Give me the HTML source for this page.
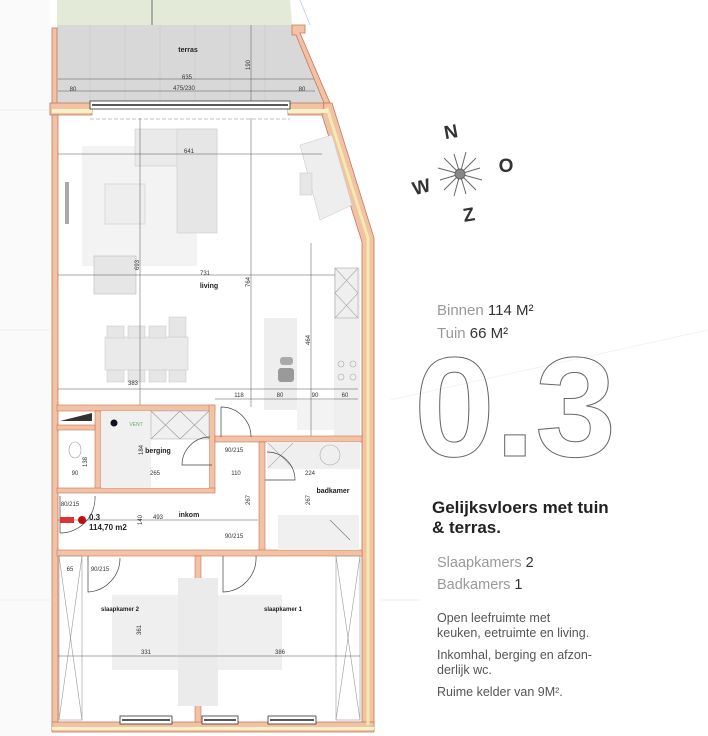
<!DOCTYPE html>
<html><head><meta charset="utf-8"><style>
html,body{margin:0;padding:0;background:#fff;width:708px;height:736px;overflow:hidden}
svg{display:block}
.t{font-family:"Liberation Sans",sans-serif}
</style></head><body>
<svg width="708" height="736" viewBox="0 0 708 736" xmlns="http://www.w3.org/2000/svg">
<g stroke="#eee" stroke-width="1" fill="none">
<rect x="0" y="0" width="50" height="736" fill="#fafafa" stroke="none"/>
<line x1="0" y1="110" x2="50" y2="110"/><line x1="0" y1="330" x2="50" y2="330"/>
<line x1="0" y1="600" x2="50" y2="600"/><line x1="380" y1="600" x2="420" y2="600"/>
<line x1="390" y1="400" x2="708" y2="330" stroke="#f3f3f3"/>
</g>
<polygon points="57,0 290,0 292,25 57,25" fill="#e3ead8"/>
<line x1="152" y1="0" x2="152" y2="50" stroke="#555" stroke-width="0.8"/>
<line x1="300" y1="0" x2="310" y2="25" stroke="#bcd" stroke-width="0.8"/>
<polygon points="57,25 292,25 325,103 57,103" fill="#d8d8d8"/>
<g stroke="#c8c8c8" stroke-width="0.6">
<line x1="90" y1="25" x2="90" y2="103"/><line x1="125" y1="25" x2="125" y2="103"/><line x1="160" y1="25" x2="160" y2="103"/><line x1="195" y1="25" x2="195" y2="103"/><line x1="230" y1="25" x2="230" y2="103"/><line x1="265" y1="25" x2="265" y2="103"/>
</g>
<text x="188" y="52" class="t" font-size="7" font-weight="bold" text-anchor="middle" fill="#222">terras</text>
<line x1="58" y1="79" x2="315" y2="79" stroke="#555" stroke-width="0.5"/>
<line x1="58" y1="91" x2="315" y2="91" stroke="#555" stroke-width="0.5"/>
<line x1="251" y1="25" x2="251" y2="103" stroke="#555" stroke-width="0.5"/>
<g class="t" font-size="6" fill="#333" text-anchor="middle">
<text x="187" y="79">635</text><text x="184" y="90">475/230</text><text x="73" y="91">80</text><text x="302" y="91">80</text>
<text x="250" y="65" transform="rotate(-90 250 65)">190</text>
</g>
<g fill="#f2c2a4" stroke="#c8765a" stroke-width="0.8">
<rect x="52" y="28" width="5" height="76"/>
<polygon points="292,25 305,25 305,33 300,33 330,103 324,103 296,35 292,35"/>
<rect x="50" y="103" width="42" height="12"/>
<rect x="288" y="103" width="42" height="12"/>
<polygon points="324,103 332,103 374,238 374,725 362,725 362,242 322,115"/>
<rect x="52" y="115" width="6" height="615"/>
<rect x="52" y="722" width="322" height="10"/>
</g>
<polyline points="327,108 368,238 368,725" fill="none" stroke="#f4eab0" stroke-width="3"/>
<rect x="52" y="109" width="40" height="4" fill="#f8f2c8"/>
<rect x="288" y="109" width="40" height="4" fill="#f8f2c8"/>
<rect x="52" y="727" width="322" height="3" fill="#f8f2c8"/>
<rect x="90" y="101" width="200" height="8" fill="#fff" stroke="#333" stroke-width="0.8"/>
<line x1="92" y1="105" x2="288" y2="105" stroke="#222" stroke-width="1.5"/>
<line x1="90" y1="119" x2="290" y2="119" stroke="#888" stroke-width="0.6" stroke-dasharray="4,2"/>
<rect x="82" y="146" width="115" height="120" fill="#f3f3f3"/>
<rect x="135" y="129" width="82" height="37" fill="#eaeaea" stroke="#ccc" stroke-width="0.6"/>
<rect x="177" y="129" width="40" height="104" fill="#e6e6e6" stroke="#ccc" stroke-width="0.6"/>
<rect x="105" y="184" width="40" height="40" fill="#eee" stroke="#ccc" stroke-width="0.6"/>
<rect x="94" y="256" width="42" height="38" fill="#e6e6e6" stroke="#bbb" stroke-width="0.6"/>
<rect x="65" y="182" width="4" height="42" fill="#aaa"/>
<polygon points="300,145 332,135 352,205 320,220" fill="#eee" stroke="#ccc" stroke-width="0.6"/>
<rect x="300" y="173" width="12" height="22" fill="#e6e6e6" stroke="#ccc" stroke-width="0.6"/>
<rect x="105" y="337" width="83" height="33" fill="#eaeaea" stroke="#ccc" stroke-width="0.6"/>
<g fill="#e6e6e6" stroke="#ccc" stroke-width="0.6">
<rect x="107" y="326" width="17" height="12"/><rect x="128" y="326" width="17" height="12"/><rect x="149" y="326" width="17" height="12"/><rect x="169" y="317" width="17" height="20"/>
<rect x="107" y="370" width="17" height="12"/><rect x="128" y="370" width="17" height="12"/><rect x="149" y="370" width="17" height="12"/><rect x="169" y="370" width="17" height="12"/>
</g>
<rect x="264" y="318" width="33" height="92" fill="#eeeeee"/>
<rect x="297" y="400" width="38" height="30" fill="#f3f3f3"/>
<rect x="280" y="357" width="13" height="8" rx="3" fill="#aaa"/>
<rect x="278" y="368" width="16" height="14" rx="3" fill="#999"/>
<rect x="334" y="268" width="26" height="170" fill="#efefef"/>
<g stroke="#aaa" stroke-width="0.6" fill="none">
<rect x="335" y="268" width="23" height="50"/><line x1="335" y1="268" x2="358" y2="293"/><line x1="358" y1="268" x2="335" y2="293"/><line x1="335" y1="293" x2="358" y2="318"/><line x1="358" y1="293" x2="335" y2="318"/>
<circle cx="341" cy="364" r="3"/><circle cx="353" cy="364" r="3"/><circle cx="341" cy="377" r="3"/><circle cx="353" cy="377" r="3"/>
</g>
<g stroke="#555" stroke-width="0.5">
<line x1="58" y1="154" x2="322" y2="154"/><line x1="58" y1="275" x2="335" y2="275"/>
<line x1="140" y1="118" x2="140" y2="407"/><line x1="251" y1="118" x2="251" y2="407"/><line x1="311" y1="243" x2="311" y2="438"/>
<line x1="58" y1="389" x2="358" y2="389"/><line x1="215" y1="399" x2="358" y2="399"/>
</g>
<g class="t" font-size="6" fill="#333" text-anchor="middle">
<text x="189" y="153">641</text><text x="205" y="275">731</text><text x="133" y="385">383</text>
<text x="139" y="265" transform="rotate(-90 139 265)">693</text><text x="250" y="282" transform="rotate(-90 250 282)">764</text><text x="310" y="340" transform="rotate(-90 310 340)">464</text>
<text x="239" y="397">118</text><text x="280" y="397">80</text><text x="315" y="397">90</text><text x="345" y="397">60</text>
</g>
<text x="209" y="288" class="t" font-size="7" font-weight="bold" text-anchor="middle" fill="#222">living</text>
<g fill="#f2c2a4" stroke="#c8765a" stroke-width="0.6">
<rect x="57" y="405" width="158" height="6"/>
<rect x="209" y="405" width="6" height="85"/>
<rect x="95" y="411" width="6" height="80"/>
<rect x="57" y="425" width="38" height="5"/>
<rect x="57" y="488" width="158" height="5"/>
<rect x="215" y="436" width="147" height="6"/>
<rect x="259" y="442" width="6" height="113"/>
<rect x="57" y="550" width="305" height="6"/>
<rect x="195" y="556" width="6" height="166"/>
</g>
<polygon points="60,421 92,413 92,421" fill="#333"/>
<rect x="101" y="411" width="108" height="77" fill="#fff"/>
<rect x="101" y="411" width="50" height="77" fill="#f0f0f0"/>
<rect x="151" y="411" width="58" height="28" fill="#f0f0f0" stroke="#aaa" stroke-width="0.5"/>
<g stroke="#999" stroke-width="0.6"><line x1="151" y1="411" x2="180" y2="439"/><line x1="180" y1="411" x2="151" y2="439"/><line x1="180" y1="411" x2="209" y2="439"/><line x1="209" y1="411" x2="180" y2="439"/></g>
<circle cx="114" cy="423" r="3.5" fill="#112"/>
<text x="136" y="426" class="t" font-size="5" fill="#6a6" text-anchor="middle">VENT</text>
<text x="158" y="453" class="t" font-size="7" font-weight="bold" text-anchor="middle" fill="#222">berging</text>
<ellipse cx="75" cy="450" rx="6" ry="8" fill="#fff" stroke="#999" stroke-width="0.6"/>
<rect x="267" y="442" width="93" height="27" fill="#efefef"/>
<g stroke="#aaa" stroke-width="0.6" fill="none"><line x1="268" y1="443" x2="293" y2="468"/><line x1="293" y1="443" x2="268" y2="468"/><circle cx="330" cy="455" r="10"/></g>
<rect x="278" y="515" width="81" height="35" fill="#f0f0f0"/>
<line x1="330" y1="520" x2="350" y2="540" stroke="#777" stroke-width="0.6"/>
<text x="333" y="493" class="t" font-size="7" font-weight="bold" text-anchor="middle" fill="#222">badkamer</text>
<rect x="112" y="595" width="170" height="75" fill="#efefef"/>
<rect x="178" y="578" width="40" height="128" fill="#ebebeb"/>
<g stroke="#999" stroke-width="0.6" fill="none">
<rect x="59" y="556" width="23" height="164"/><line x1="59" y1="556" x2="82" y2="720"/><line x1="82" y1="556" x2="59" y2="720"/>
<rect x="336" y="556" width="24" height="164"/><line x1="336" y1="556" x2="360" y2="720"/><line x1="360" y1="556" x2="336" y2="720"/>
</g>
<line x1="58" y1="656" x2="360" y2="656" stroke="#555" stroke-width="0.5"/>
<line x1="58" y1="520" x2="258" y2="520" stroke="#555" stroke-width="0.5"/>
<g class="t" font-size="6" fill="#333" text-anchor="middle"><text x="75" y="475">90</text><text x="155" y="475">265</text><text x="236" y="475">110</text><text x="310" y="475">224</text>
<text x="143" y="450" transform="rotate(-90 143 450)">184</text><text x="87" y="462" transform="rotate(-90 87 462)">138</text>
<text x="234" y="452">90/215</text><text x="234" y="538">90/215</text><text x="100" y="571">90/215</text><text x="70" y="506">80/215</text><text x="70" y="571">65</text>
<text x="158" y="519">493</text><text x="146" y="654">331</text><text x="280" y="654">386</text>
<text x="142" y="520" transform="rotate(-90 142 520)">140</text><text x="141" y="630" transform="rotate(-90 141 630)">361</text><text x="250" y="500" transform="rotate(-90 250 500)">267</text><text x="310" y="500" transform="rotate(-90 310 500)">267</text></g>
<g fill="none" stroke="#444" stroke-width="0.7">
<path d="M221,407 L221,437 M221,407 A30,30 0 0 1 251,437"/>
<path d="M212,465 L182,465 A28,28 0 0 1 210,437"/>
<path d="M265,480 L295,480 A28,28 0 0 0 267,452"/>
<path d="M60,496 L60,533 M60,533 A35,35 0 0 0 95,496"/>
<path d="M88,556 L88,592 A34,34 0 0 0 120,558"/>
<path d="M223,556 L223,592 A34,34 0 0 0 256,556"/>
</g>
<rect x="60" y="517" width="14" height="6" fill="#d33"/>
<circle cx="82" cy="520" r="4" fill="#b11"/>
<text x="89" y="520" class="t" font-size="8" font-weight="bold" fill="#222">0.3</text>
<text x="89" y="530" class="t" font-size="8" font-weight="bold" fill="#222">114,70 m2</text>
<text x="189" y="517" class="t" font-size="7" font-weight="bold" text-anchor="middle" fill="#222">inkom</text>
<text x="120" y="611" class="t" font-size="6" font-weight="bold" text-anchor="middle" fill="#222">slaapkamer 2</text>
<text x="283" y="611" class="t" font-size="6" font-weight="bold" text-anchor="middle" fill="#222">slaapkamer 1</text>
<g fill="#fff" stroke="#333" stroke-width="0.8">
<rect x="120" y="716" width="52" height="8"/><rect x="202" y="716" width="36" height="8"/><rect x="268" y="716" width="48" height="8"/>
</g>
<g stroke="#222" stroke-width="1.5"><line x1="122" y1="720" x2="170" y2="720"/><line x1="204" y1="720" x2="236" y2="720"/><line x1="270" y1="720" x2="314" y2="720"/></g>
<g transform="translate(460,174)" stroke="#666" stroke-width="1">
<line x1="-22" y1="-6" x2="22" y2="6"/><line x1="-6" y1="22" x2="6" y2="-22"/><line x1="-16" y1="-16" x2="16" y2="16"/><line x1="-16" y1="16" x2="16" y2="-16"/><line x1="-20" y1="6" x2="20" y2="-6"/><line x1="-6" y1="-20" x2="6" y2="20"/>
<circle r="5" fill="#888"/>
</g>
<g class="t" font-weight="bold" font-size="19" fill="#333" text-anchor="middle">
<text x="452" y="138" transform="rotate(-10 452 138)">N</text><text x="423" y="193" transform="rotate(-15 423 193)">W</text><text x="506" y="172">O</text><text x="470" y="221" transform="rotate(-10 470 221)">Z</text>
</g>
<g class="t">
<text x="437" y="315" font-size="15" fill="#999">Binnen <tspan fill="#333">114 M²</tspan></text>
<text x="437" y="338" font-size="15" fill="#999">Tuin <tspan fill="#333">66 M²</tspan></text>
<text x="414" y="456" font-size="142" font-weight="bold" fill="none" stroke="#666" stroke-width="1" textLength="202" lengthAdjust="spacingAndGlyphs">0.3</text>
<text x="432" y="513" font-size="17" font-weight="bold" fill="#222">Gelijksvloers met tuin</text>
<text x="432" y="533" font-size="17" font-weight="bold" fill="#222">&amp; terras.</text>
<text x="437" y="567" font-size="14.5" fill="#999">Slaapkamers <tspan fill="#333">2</tspan></text>
<text x="437" y="589" font-size="14.5" fill="#999">Badkamers <tspan fill="#333">1</tspan></text>
<g font-size="12.5" fill="#555">
<text x="437" y="622">Open leefruimte met</text><text x="437" y="637">keuken, eetruimte en living.</text>
<text x="437" y="659">Inkomhal, berging en afzon-</text><text x="437" y="674">derlijk wc.</text>
<text x="437" y="696">Ruime kelder van 9M².</text>
</g>
</g>
</svg>
</body></html>
